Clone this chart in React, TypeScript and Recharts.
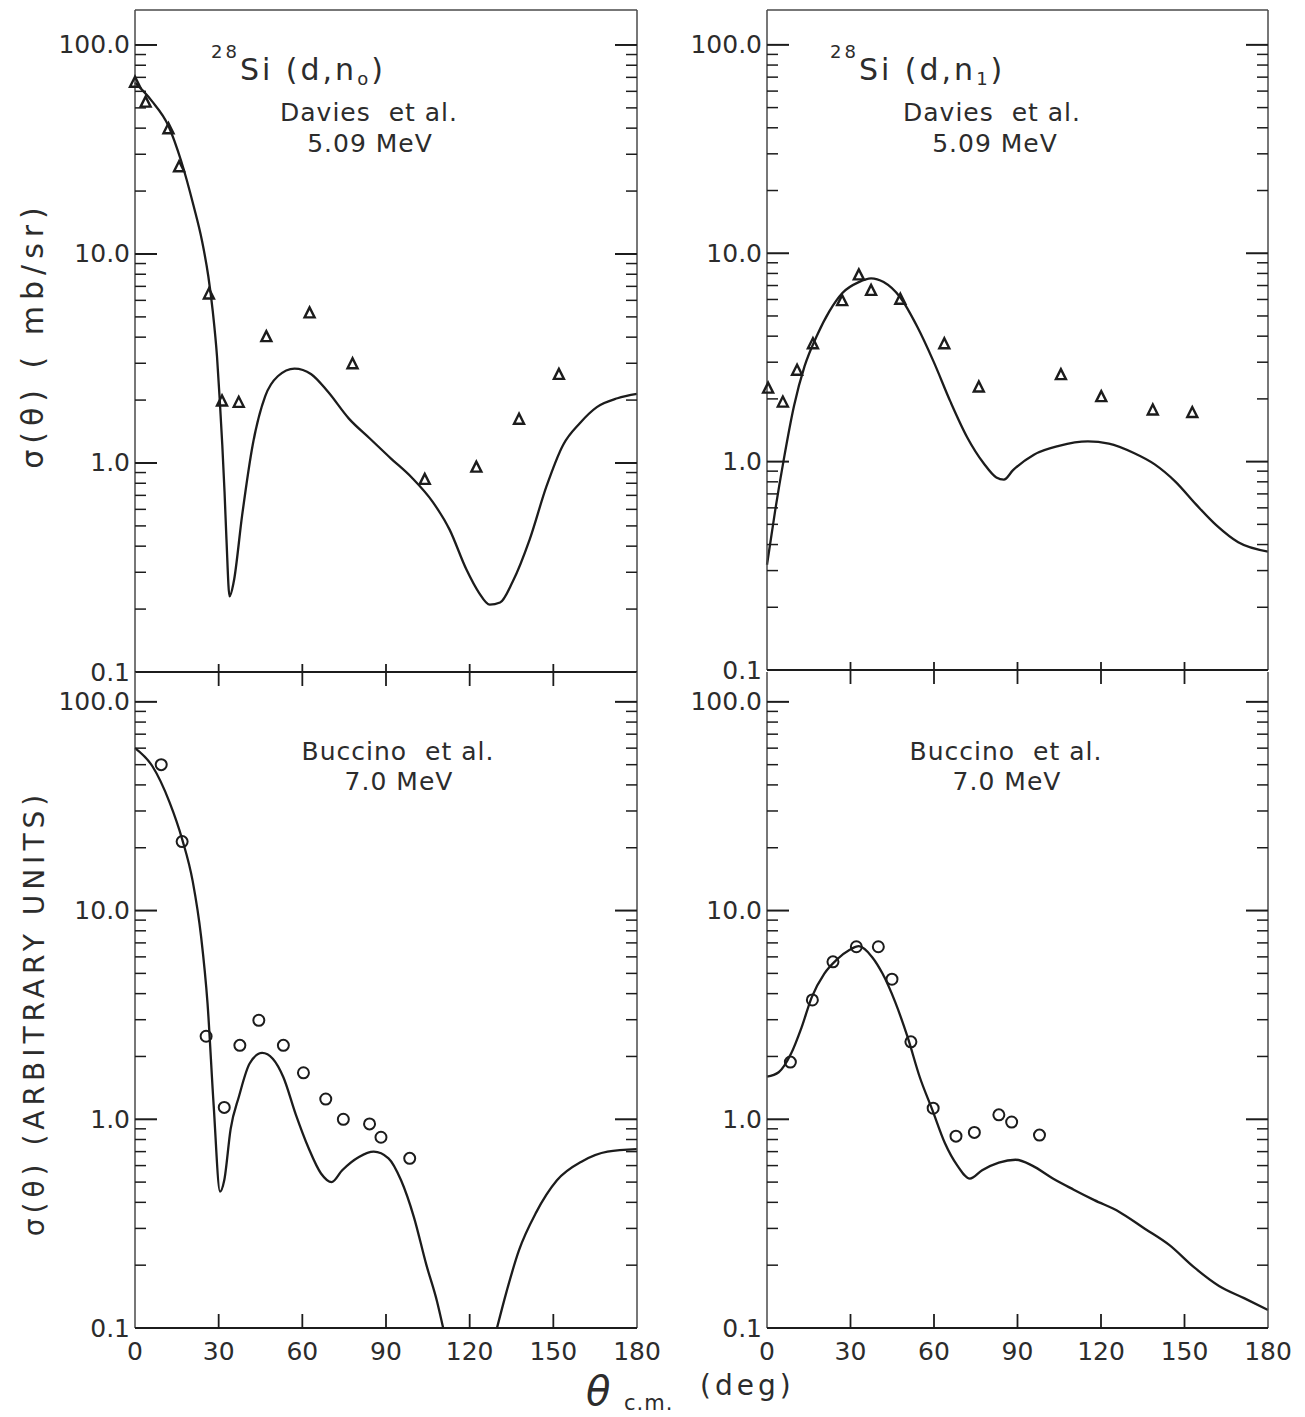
import { ComposedChart, Line, Scatter, XAxis, YAxis } from "recharts";

const INK = "#1c1c1c";
const FRAME = "#4a4a4a";
const TEXT = "#2c2c2c";
const FONT = "'DejaVu Sans', Verdana, sans-serif";

const X_TICKS = [0, 30, 60, 90, 120, 150, 180];
const Y_TICKS = [
  0.1, 0.2, 0.3, 0.4, 0.5, 0.6, 0.7, 0.8, 0.9,
  1, 2, 3, 4, 5, 6, 7, 8, 9,
  10, 20, 30, 40, 50, 60, 70, 80, 90, 100,
];
const Y_LABELS: Record<string, string> = { "0.1": "0.1", "1": "1.0", "10": "10.0", "100": "100.0" };

type Pt = [number, number | null];

// 28Si(d,n0) - Davies et al. 5.09 MeV
const n0DaviesCurve: Pt[] = [
  [0, 66], [6, 54], [12, 41], [16.5, 28], [21, 17], [24, 11.6], [26.3, 7.8], [27.9, 5.3],
  [29.4, 3.24], [30.4, 1.99], [31.3, 1.22], [32.1, 0.73], [32.8, 0.43], [33.9, 0.23],
  [35.4, 0.27], [38.4, 0.56], [42.2, 1.22], [46.7, 2.09], [51.2, 2.6], [57.2, 2.83],
  [63.2, 2.66], [69.2, 2.19], [76.7, 1.63], [84.2, 1.31], [91.8, 1.05], [99.3, 0.85],
  [106.8, 0.65], [112.8, 0.48], [118.8, 0.31], [123.3, 0.24], [127.2, 0.21], [130.9, 0.215],
  [135.4, 0.27], [141.5, 0.43], [147.5, 0.77], [153.5, 1.22], [159.5, 1.55], [165.6, 1.85],
  [173, 2.04], [180, 2.14],
];
const n0DaviesData: Pt[] = [
  [0, 66], [3.8, 53], [12, 39.5], [15.8, 26], [26.5, 6.4], [31.2, 1.97], [37.2, 1.94],
  [47.1, 4.0], [62.6, 5.2], [78, 2.97], [103.9, 0.83], [122.4, 0.95], [137.7, 1.61], [152, 2.64],
];

// 28Si(d,n1) - Davies et al. 5.09 MeV
const n1DaviesCurve: Pt[] = [
  [0, 0.32], [3, 0.59], [6, 1.02], [9.7, 1.85], [13.5, 2.87], [18, 4.04], [22.5, 5.29],
  [27, 6.43], [33, 7.27], [37.4, 7.57], [41.9, 7.27], [47.9, 6.13], [53.9, 4.46], [59.9, 3.01],
  [65.9, 1.94], [71.9, 1.31], [77.9, 0.98], [82.4, 0.84], [85.1, 0.82], [88.4, 0.91],
  [95.9, 1.08], [104.9, 1.19], [115.3, 1.25], [122.8, 1.22], [131.8, 1.1], [139.3, 0.97],
  [146.8, 0.8], [154.3, 0.62], [161.8, 0.49], [169.3, 0.41], [180, 0.37],
];
const n1DaviesData: Pt[] = [
  [0.4, 2.24], [5.7, 1.92], [10.8, 2.73], [16.5, 3.66], [27, 5.89], [33, 7.83], [37.4, 6.6],
  [47.9, 5.98], [63.7, 3.66], [76.1, 2.27], [105.6, 2.6], [120.1, 2.04], [138.6, 1.76], [152.8, 1.71],
];

// 28Si(d,n0) - Buccino et al. 7.0 MeV (curve drops below 0.1 between ~110 and ~130 deg)
const n0BuccinoCurve: Pt[] = [
  [0, 60], [6.3, 49], [12.4, 33], [16.9, 22], [20.7, 13.8], [23.7, 7.5], [26, 3.6], [28.2, 1.17],
  [30.5, 0.45], [32, 0.51], [34.3, 0.9], [37.3, 1.29], [41.1, 1.85], [45.6, 2.08], [49.4, 1.95],
  [53.2, 1.59], [57.7, 1.05], [62.2, 0.73], [66.7, 0.55], [70.5, 0.5], [74.3, 0.57], [80.3, 0.66],
  [85.6, 0.7], [90.9, 0.65], [95.4, 0.51], [100, 0.34], [104.5, 0.2], [108.3, 0.134], [110.5, 0.1],
  [120, null],
  [129.8, 0.1], [133.2, 0.149], [137.7, 0.236], [143.8, 0.357], [151.3, 0.51], [160.4, 0.63],
  [169.4, 0.7], [180, 0.72],
];
const n0BuccinoData: Pt[] = [
  [9.4, 50], [16.9, 21.4], [25.5, 2.5], [32, 1.14], [37.6, 2.26], [44.4, 2.98], [53.2, 2.26],
  [60.4, 1.67], [68.4, 1.25], [74.7, 1.0], [84.1, 0.95], [88.2, 0.82], [98.5, 0.65],
];

// 28Si(d,n1) - Buccino et al. 7.0 MeV
const n1BuccinoCurve: Pt[] = [
  [0, 1.6], [4.2, 1.68], [8.7, 2.07], [12.4, 2.75], [16.1, 3.85], [20.6, 4.99], [25.1, 5.83],
  [29.6, 6.47], [33, 6.75], [37.8, 5.98], [41.5, 4.99], [46, 3.66], [50.5, 2.48], [54.9, 1.59],
  [59.4, 1.11], [63.9, 0.77], [68.4, 0.6], [72.9, 0.52], [77.3, 0.57], [83.3, 0.62], [89.3, 0.64],
  [95.3, 0.6], [102.7, 0.52], [110.2, 0.46], [117.6, 0.41], [126.6, 0.36], [135.6, 0.3],
  [144.5, 0.25], [153.5, 0.195], [162.4, 0.159], [171.4, 0.139], [180, 0.122],
];
const n1BuccinoData: Pt[] = [
  [8.4, 1.88], [16.3, 3.73], [23.7, 5.68], [32.1, 6.71], [40, 6.71], [44.9, 4.69], [51.7, 2.35],
  [59.7, 1.13], [67.9, 0.83], [74.5, 0.865], [83.3, 1.05], [87.9, 0.97], [97.9, 0.84],
];

const isMajor = (v: number) => Y_LABELS[String(v)] !== undefined;

function LeftTick(props: any) {
  const { x, y, payload } = props;
  const major = isMajor(payload.value);
  return (
    <g>
      <line x1={x} x2={x + (major ? 22 : 11)} y1={y} y2={y} stroke={INK} strokeWidth={major ? 2 : 1.5} />
      {major && (
        <text x={x - 5} y={y} textAnchor="end" dominantBaseline="central" fontSize={25} fill={TEXT} fontFamily={FONT}>
          {Y_LABELS[String(payload.value)]}
        </text>
      )}
    </g>
  );
}

function RightTick(props: any) {
  const { x, y, payload } = props;
  const major = isMajor(payload.value);
  return <line x1={x} x2={x - (major ? 22 : 11)} y1={y} y2={y} stroke={INK} strokeWidth={major ? 2 : 1.5} />;
}

function CrossTick(props: any) {
  const { x, y, payload } = props;
  if (payload.value === 0 || payload.value === 180) return <g />;
  return <line x1={x} x2={x} y1={y - 8} y2={y + 14} stroke={INK} strokeWidth={1.8} />;
}

function BottomTick(props: any) {
  const { x, y, payload } = props;
  const edge = payload.value === 0 || payload.value === 180;
  return (
    <g>
      {!edge && <line x1={x} x2={x} y1={y} y2={y - 14} stroke={INK} strokeWidth={1.8} />}
      <text x={x} y={y + 23} textAnchor="middle" dominantBaseline="central" fontSize={25} fill={TEXT} fontFamily={FONT}>
        {payload.value}
      </text>
    </g>
  );
}

function Triangle(props: any) {
  const { cx, cy } = props;
  if (cx == null || cy == null) return <g />;
  return (
    <polygon
      points={`${cx},${cy - 6} ${cx - 5},${cy + 4} ${cx + 5},${cy + 4}`}
      fill="none"
      stroke={INK}
      strokeWidth={2.4}
    />
  );
}

function Ring(props: any) {
  const { cx, cy } = props;
  if (cx == null || cy == null) return <g />;
  return <circle cx={cx} cy={cy} r={5.5} fill="none" stroke={INK} strokeWidth={2} />;
}

interface PanelProps {
  left: number;
  top: number;
  width: number;
  height: number;
  margin: { top: number; right: number; bottom: number; left: number };
  yTop: number;
  curve: Pt[];
  points: Pt[];
  marker: "triangle" | "circle";
  lower: boolean;
}

function Panel(p: PanelProps) {
  const curve = p.curve.map(([x, y]) => ({ x, y }));
  const pts = p.points.map(([x, y]) => ({ x, y }));
  return (
    <div style={{ position: "absolute", left: p.left, top: p.top }}>
      <ComposedChart width={p.width} height={p.height} margin={p.margin}>
        <XAxis
          xAxisId="b" type="number" dataKey="x" domain={[0, 180]} ticks={X_TICKS} interval={0}
          orientation="bottom" height={p.lower ? 40 : 10} tickSize={0} tickMargin={0}
          tick={(t: any) => (p.lower ? <BottomTick {...t} /> : <CrossTick {...t} />)}
          axisLine={{ stroke: INK, strokeWidth: 2 }}
        />
        <XAxis
          xAxisId="t" type="number" dataKey="x" domain={[0, 180]} orientation="top" height={10}
          tick={false} tickLine={false}
          axisLine={p.lower ? false : { stroke: FRAME, strokeWidth: 1.5 }}
        />
        <YAxis
          yAxisId="l" type="number" dataKey="y" scale="log" domain={[0.1, p.yTop]} allowDataOverflow
          ticks={Y_TICKS} interval={0} width={10} tickSize={0} tickMargin={0}
          tick={(t: any) => <LeftTick {...t} />} axisLine={{ stroke: FRAME, strokeWidth: 1.5 }}
        />
        <YAxis
          yAxisId="r" orientation="right" type="number" scale="log" domain={[0.1, p.yTop]} allowDataOverflow
          ticks={Y_TICKS} interval={0} width={10} tickSize={0} tickMargin={0}
          tick={(t: any) => <RightTick {...t} />} axisLine={{ stroke: FRAME, strokeWidth: 1.5 }}
        />
        <Line
          xAxisId="b" yAxisId="l" data={curve} dataKey="y" type="monotone" stroke={INK}
          strokeWidth={2.3} dot={false} connectNulls={false} isAnimationActive={false}
        />
        <Scatter
          xAxisId="b" yAxisId="l" data={pts} dataKey="y" isAnimationActive={false}
          shape={(s: any) => (p.marker === "triangle" ? <Triangle {...s} /> : <Ring {...s} />)}
        />
      </ComposedChart>
    </div>
  );
}

const txt = { fontFamily: FONT, fill: TEXT } as const;

function Annotations() {
  return (
    <svg width={1305} height={1417} style={{ position: "absolute", left: 0, top: 0, pointerEvents: "none" }}>
      {/* panel titles */}
      <text x={211} y={80} {...txt} fontSize={30} style={{ letterSpacing: 3, whiteSpace: "pre" }}>
        <tspan fontSize={18} dy={-22}>28</tspan>
        <tspan dy={22}>Si (d,n</tspan>
        <tspan fontSize={18} dy={5}>o</tspan>
        <tspan dy={-5}>)</tspan>
      </text>
      <text x={369} y={112} {...txt} fontSize={25} textAnchor="middle" dominantBaseline="central" style={{ letterSpacing: 1, whiteSpace: "pre" }}>Davies  et al.</text>
      <text x={370} y={143} {...txt} fontSize={25} textAnchor="middle" dominantBaseline="central" style={{ letterSpacing: 1 }}>5.09 MeV</text>

      <text x={830} y={80} {...txt} fontSize={30} style={{ letterSpacing: 3, whiteSpace: "pre" }}>
        <tspan fontSize={18} dy={-22}>28</tspan>
        <tspan dy={22}>Si (d,n</tspan>
        <tspan fontSize={18} dy={5}>1</tspan>
        <tspan dy={-5}>)</tspan>
      </text>
      <text x={992} y={112} {...txt} fontSize={25} textAnchor="middle" dominantBaseline="central" style={{ letterSpacing: 1, whiteSpace: "pre" }}>Davies  et al.</text>
      <text x={995} y={143} {...txt} fontSize={25} textAnchor="middle" dominantBaseline="central" style={{ letterSpacing: 1 }}>5.09 MeV</text>

      <text x={398} y={751} {...txt} fontSize={25} textAnchor="middle" dominantBaseline="central" style={{ letterSpacing: 1, whiteSpace: "pre" }}>Buccino  et al.</text>
      <text x={399} y={781} {...txt} fontSize={25} textAnchor="middle" dominantBaseline="central" style={{ letterSpacing: 1 }}>7.0 MeV</text>
      <text x={1006} y={751} {...txt} fontSize={25} textAnchor="middle" dominantBaseline="central" style={{ letterSpacing: 1, whiteSpace: "pre" }}>Buccino  et al.</text>
      <text x={1007} y={781} {...txt} fontSize={25} textAnchor="middle" dominantBaseline="central" style={{ letterSpacing: 1 }}>7.0 MeV</text>

      {/* axis titles */}
      <text x={32} y={335} {...txt} fontSize={30} textAnchor="middle" dominantBaseline="central"
        transform="rotate(-90, 32, 335)" style={{ letterSpacing: 6, whiteSpace: "pre" }}>
        σ(θ) ( mb/sr)
      </text>
      <text x={34} y={1013} {...txt} fontSize={28} textAnchor="middle" dominantBaseline="central"
        transform="rotate(-90, 34, 1013)" style={{ letterSpacing: 5, whiteSpace: "pre" }}>
        σ(θ) (ARBITRARY UNITS)
      </text>
      <text x={586} y={1405} {...txt} fontSize={40} fontStyle="italic">θ</text>
      <text x={624} y={1410} {...txt} fontSize={21} style={{ letterSpacing: 1 }}>c.m.</text>
      <text x={700} y={1395} {...txt} fontSize={28} style={{ letterSpacing: 4 }}>(deg)</text>
    </svg>
  );
}

export default function App() {
  return (
    <div style={{ position: "absolute", left: 0, top: 0, width: 1305, height: 1417, background: "#fff", overflow: "hidden" }}>
      <Panel left={0} top={0} width={660} height={700} margin={{ top: 0, right: 13, bottom: 18, left: 125 }}
        yTop={147} curve={n0DaviesCurve} points={n0DaviesData} marker="triangle" lower={false} />
      <Panel left={640} top={0} width={665} height={700} margin={{ top: 0, right: 27, bottom: 20, left: 117 }}
        yTop={147} curve={n1DaviesCurve} points={n1DaviesData} marker="triangle" lower={false} />
      <Panel left={0} top={660} width={660} height={757} margin={{ top: 2, right: 13, bottom: 49, left: 125 }}
        yTop={139} curve={n0BuccinoCurve} points={n0BuccinoData} marker="circle" lower={true} />
      <Panel left={640} top={660} width={665} height={757} margin={{ top: 2, right: 27, bottom: 49, left: 117 }}
        yTop={139} curve={n1BuccinoCurve} points={n1BuccinoData} marker="circle" lower={true} />
      <Annotations />
    </div>
  );
}
